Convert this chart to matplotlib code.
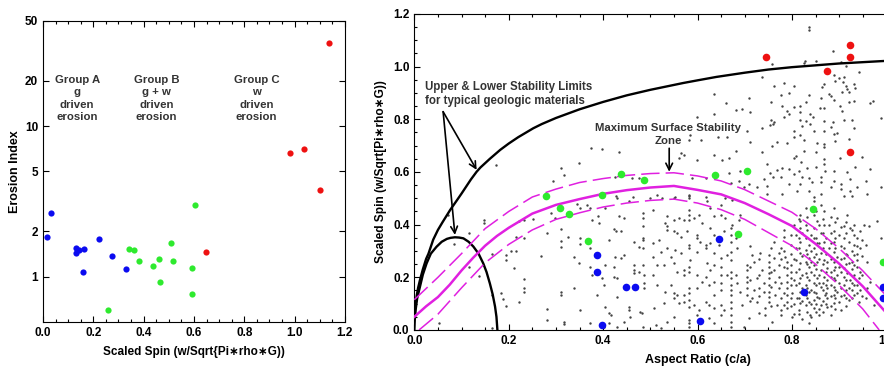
import matplotlib
matplotlib.use("Agg")
import matplotlib.pyplot as plt
from matplotlib.ticker import MultipleLocator, FixedLocator, FixedFormatter, NullLocator

plt.rcParams['font.family'] = ['Liberation Sans', 'DejaVu Sans']
plt.rcParams['font.weight'] = 'bold'
plt.rcParams['axes.labelweight'] = 'bold'

# ---------------- Left panel data ----------------
groupA_x = [0.017, 0.033, 0.130, 0.130, 0.145, 0.162, 0.158, 0.222, 0.275, 0.330]
groupA_y = [1.83, 2.66, 1.54, 1.43, 1.50, 1.53, 1.08, 1.79, 1.37, 1.12]
groupB_x = [0.258, 0.342, 0.362, 0.382, 0.439, 0.462, 0.466, 0.510, 0.516, 0.592, 0.592, 0.604]
groupB_y = [0.60, 1.53, 1.50, 1.27, 1.18, 1.32, 0.92, 1.68, 1.28, 1.15, 0.77, 2.99]
groupC_x = [0.648, 0.982, 1.037, 1.100, 1.138]
groupC_y = [1.47, 6.68, 7.07, 3.74, 35.9]
group_labels = ["Group A\ng\ndriven\nerosion", "Group B\ng + w\ndriven\nerosion", "Group C\nw\ndriven\nerosion"]
group_label_x = [0.136, 0.451, 0.848]
left_yticks = [1, 2, 5, 10, 20, 50]

# ---------------- Right panel data ----------------
red_x = [0.745, 0.924, 0.924, 0.875, 0.924]
red_y = [1.035, 1.084, 1.035, 0.984, 0.675]
green_x = [0.278, 0.308, 0.328, 0.367, 0.398, 0.437, 0.487, 0.636, 0.705, 0.685, 0.844, 0.992]
green_y = [0.510, 0.463, 0.442, 0.339, 0.514, 0.592, 0.568, 0.590, 0.603, 0.363, 0.458, 0.257]
blue_x = [0.387, 0.387, 0.448, 0.468, 0.398, 0.646, 0.606, 0.826, 0.992, 0.992]
blue_y = [0.284, 0.222, 0.165, 0.165, 0.019, 0.344, 0.034, 0.146, 0.165, 0.123]

upper_x = [0.0, 0.002, 0.005, 0.008, 0.012, 0.018, 0.025, 0.03, 0.04, 0.05, 0.06, 0.076, 0.09,
           0.1, 0.12, 0.132, 0.14, 0.16, 0.182, 0.2, 0.22, 0.252, 0.27, 0.3, 0.35, 0.4, 0.45,
           0.5, 0.57, 0.6, 0.64, 0.7, 0.75, 0.8, 0.85, 0.9, 1.0, 1.1, 1.2]
upper_y = [0.05, 0.09, 0.13, 0.16, 0.19, 0.23, 0.27, 0.29, 0.343, 0.38, 0.41, 0.456, 0.492,
           0.518, 0.572, 0.601, 0.617, 0.65, 0.684, 0.708, 0.732, 0.766, 0.782, 0.805, 0.838,
           0.866, 0.891, 0.912, 0.938, 0.948, 0.961, 0.977, 0.989, 0.998, 1.005, 1.012, 1.022,
           1.03, 1.035]
lower_x = [0.0, 0.001, 0.003, 0.006, 0.012, 0.018, 0.026, 0.035, 0.047, 0.058, 0.069, 0.077,
           0.086, 0.095, 0.104, 0.115, 0.125, 0.136, 0.146, 0.153, 0.160, 0.166, 0.171, 0.174,
           0.176]
lower_y = [0.0, 0.04, 0.08, 0.12, 0.165, 0.21, 0.253, 0.29, 0.316, 0.335, 0.346, 0.350,
           0.352, 0.351, 0.348, 0.335, 0.317, 0.29, 0.253, 0.22, 0.177, 0.135, 0.089, 0.05, 0.0]

zone_x = [0.0, 0.025, 0.05, 0.075, 0.1, 0.125, 0.15, 0.175, 0.2, 0.25, 0.3, 0.35, 0.4, 0.45,
          0.5, 0.55, 0.6, 0.65, 0.7, 0.75, 0.8, 0.85, 0.9, 0.95, 1.0, 1.03]
zone_mid = [0.05, 0.09, 0.125, 0.172, 0.226, 0.275, 0.32, 0.357, 0.388, 0.442, 0.475, 0.497,
            0.517, 0.531, 0.541, 0.547, 0.532, 0.515, 0.482, 0.44, 0.395, 0.327, 0.252, 0.166,
            0.065, 0.0]
zone_hi_x = [0.0, 0.05, 0.1, 0.15, 0.2, 0.25, 0.3, 0.35, 0.4, 0.45, 0.5, 0.55, 0.6, 0.65, 0.7,
             0.75, 0.8, 0.85, 0.9, 0.95, 1.0, 1.05]
zone_hi = [0.115, 0.2, 0.29, 0.385, 0.45, 0.505, 0.535, 0.56, 0.575, 0.587, 0.594, 0.597,
           0.585, 0.566, 0.533, 0.49, 0.447, 0.385, 0.31, 0.225, 0.13, 0.03]
zone_lo_x = [0.01, 0.05, 0.1, 0.15, 0.2, 0.25, 0.3, 0.35, 0.4, 0.45, 0.5, 0.55, 0.6, 0.65, 0.7,
             0.75, 0.8, 0.85, 0.9, 0.95, 0.985]
zone_lo = [0.0, 0.06, 0.16, 0.255, 0.325, 0.38, 0.42, 0.445, 0.467, 0.482, 0.492, 0.497,
           0.482, 0.457, 0.42, 0.37, 0.32, 0.25, 0.17, 0.08, 0.0]

dots_x = [
    0.173, 0.311, 0.318, 0.293,
    0.635, 0.661, 0.635, 0.599, 0.585, 0.582, 0.608, 0.644, 0.663, 0.375, 0.398, 0.433, 0.564,
    0.571, 0.560, 0.599, 0.635, 0.652, 0.666, 0.349, 0.426, 0.462, 0.476, 0.589, 0.617, 0.666,
    0.670, 0.428, 0.464, 0.515, 0.525, 0.582, 0.582, 0.617, 0.553,
    0.836, 0.836, 0.887, 0.827, 0.825, 0.851, 0.758, 0.903, 0.914, 0.942, 0.737, 0.889, 0.899,
    0.910, 0.908, 0.914, 0.892, 0.868, 0.864, 0.878, 0.882, 0.906, 0.917, 0.921, 0.931, 0.933,
    0.762, 0.784, 0.804, 0.709, 0.777, 0.793, 0.836, 0.861, 0.889, 0.921, 0.931, 0.755, 0.829,
    0.804, 0.817, 0.859, 0.868, 0.902, 0.906, 0.965, 0.972, 0.681, 0.695, 0.712, 0.779, 0.789,
    0.793, 0.818, 0.838, 0.845, 0.783, 0.755, 0.760, 0.753, 0.763, 0.818, 0.829, 0.838, 0.868,
    0.887, 0.910, 0.928, 0.882, 0.896, 0.889, 0.931, 0.868, 0.846, 0.822, 0.804, 0.818, 0.705,
    0.737, 0.769, 0.790, 0.804, 0.825, 0.854, 0.892, 0.921, 0.868, 0.868, 0.988, 0.681, 0.712,
    0.737, 0.758, 0.808, 0.804, 0.825, 0.868, 0.902, 0.949, 0.850, 0.820, 0.748, 0.691, 0.769,
    0.779, 0.793, 0.815, 0.832, 0.850, 0.868, 0.889, 0.917, 0.933, 0.966, 0.753, 0.760, 0.741,
    0.776, 0.804, 0.822, 0.836, 0.861, 0.871, 0.688, 0.709, 0.726, 0.748, 0.793, 0.818, 0.843,
    0.861, 0.889, 0.903, 0.924, 0.956, 0.698, 0.748, 0.779, 0.811, 0.836, 0.846, 0.861, 0.882,
    0.903, 0.924, 0.938, 0.959, 0.988, 0.928, 0.910,
    0.071, 0.147, 0.147, 0.116, 0.083, 0.222, 0.233, 0.251, 0.289, 0.297, 0.311, 0.281, 0.215,
    0.233, 0.325, 0.311, 0.311, 0.205, 0.215, 0.194, 0.194, 0.164, 0.268, 0.116, 0.136, 0.212,
    0.233, 0.233, 0.233, 0.184, 0.187, 0.164, 0.194, 0.222, 0.311, 0.311, 0.282, 0.282, 0.318,
    0.318, 0.053, 0.164,
    0.345, 0.352, 0.365, 0.373, 0.403, 0.430, 0.454, 0.500, 0.550, 0.582, 0.620, 0.627, 0.649,
    0.659, 0.673, 0.377, 0.389, 0.391, 0.433, 0.444, 0.485, 0.485, 0.484, 0.505, 0.536, 0.532,
    0.536, 0.550, 0.560, 0.571, 0.582, 0.582, 0.582, 0.592, 0.603, 0.610, 0.627, 0.635, 0.649,
    0.659, 0.673, 0.670, 0.423, 0.428, 0.437, 0.352, 0.412, 0.465, 0.485, 0.485, 0.505, 0.518,
    0.536, 0.550, 0.557, 0.564, 0.578, 0.598, 0.598, 0.606, 0.617, 0.627, 0.635, 0.645, 0.656,
    0.670, 0.670, 0.352, 0.338, 0.373, 0.426, 0.444, 0.476, 0.485, 0.505, 0.522, 0.536, 0.543,
    0.553, 0.564, 0.582, 0.582, 0.585, 0.599, 0.617, 0.620, 0.635, 0.649, 0.663, 0.670, 0.670,
    0.373, 0.377, 0.405, 0.423, 0.437, 0.465, 0.465, 0.465, 0.485, 0.476, 0.486, 0.505, 0.515,
    0.529, 0.550, 0.557, 0.571, 0.571, 0.582, 0.582, 0.599, 0.617, 0.627, 0.635, 0.649, 0.649,
    0.663, 0.670, 0.670, 0.349, 0.338, 0.387, 0.398, 0.402, 0.423, 0.430, 0.486, 0.486, 0.515,
    0.532, 0.543, 0.550, 0.557, 0.571, 0.582, 0.582, 0.599, 0.610, 0.624, 0.635, 0.649, 0.649,
    0.670, 0.670, 0.670, 0.635, 0.405, 0.412, 0.430, 0.454, 0.454, 0.479, 0.483, 0.507, 0.529,
    0.550, 0.560, 0.571, 0.582, 0.582, 0.592, 0.603, 0.617, 0.624, 0.635, 0.649, 0.656, 0.670,
    0.670, 0.352, 0.416, 0.373, 0.412, 0.430, 0.444, 0.458, 0.485, 0.511, 0.522, 0.536, 0.550,
    0.582, 0.582, 0.582, 0.599, 0.624, 0.635, 0.649, 0.670, 0.670, 0.670, 0.402,
    0.681, 0.684, 0.691, 0.688, 0.705, 0.705, 0.705, 0.705, 0.705, 0.705, 0.681, 0.684, 0.691,
    0.695, 0.716, 0.719, 0.716, 0.719, 0.726, 0.726, 0.733, 0.737, 0.741, 0.741, 0.730, 0.709,
    0.744, 0.744, 0.698,
    0.751, 0.751, 0.751, 0.751, 0.751, 0.751, 0.751, 0.751, 0.751, 0.762, 0.762, 0.762, 0.765,
    0.765, 0.772, 0.772, 0.772, 0.772, 0.769, 0.776, 0.758,
    0.783, 0.786, 0.790, 0.790, 0.790, 0.790, 0.790, 0.790, 0.790, 0.790, 0.797, 0.797, 0.797,
    0.801, 0.801, 0.783,
    0.808, 0.808, 0.808, 0.808, 0.808, 0.811, 0.815, 0.818, 0.818, 0.818, 0.818, 0.818, 0.818,
    0.818, 0.818, 0.818,
    0.829, 0.829, 0.829, 0.829, 0.829, 0.829, 0.829, 0.829, 0.829, 0.836, 0.836, 0.836, 0.836,
    0.836, 0.836, 0.839, 0.836,
    0.846, 0.846, 0.846, 0.846, 0.846, 0.846, 0.846, 0.846, 0.846, 0.846, 0.846, 0.846, 0.854,
    0.854, 0.854, 0.854, 0.854, 0.861, 0.861, 0.861, 0.861, 0.861, 0.861, 0.857,
    0.868, 0.868, 0.868, 0.868, 0.868, 0.871, 0.875, 0.875, 0.875, 0.875, 0.875, 0.875, 0.878,
    0.878, 0.882, 0.882,
    0.889, 0.889, 0.889, 0.889, 0.889, 0.889, 0.889, 0.889, 0.889, 0.889, 0.896, 0.896, 0.896,
    0.896, 0.899, 0.899, 0.899, 0.899, 0.903,
    0.910, 0.910, 0.910, 0.910, 0.910, 0.910, 0.910, 0.910, 0.917, 0.917, 0.917, 0.921, 0.921,
    0.921, 0.921, 0.924, 0.924,
    0.931, 0.931, 0.931, 0.931, 0.931, 0.931, 0.931, 0.931, 0.938, 0.938, 0.942, 0.942, 0.945,
    0.945, 0.945, 0.945,
    0.952, 0.956, 0.959, 0.963, 0.956, 0.966, 0.974, 0.959, 0.981, 0.988,
]
dots_y = [
    0.627, 0.617, 0.587, 0.566,
    0.895, 0.863, 0.822, 0.807, 0.740, 0.721, 0.721, 0.731, 0.734, 0.691, 0.686, 0.677, 0.673,
    0.664, 0.655, 0.645, 0.664, 0.645, 0.652, 0.635, 0.582, 0.576, 0.579, 0.576, 0.576, 0.595,
    0.557, 0.509, 0.506, 0.512, 0.503, 0.512, 0.503, 0.506, 0.506,
    1.152, 1.139, 1.061, 1.023, 1.013, 1.023, 1.010, 1.016, 1.004, 0.978, 0.962, 0.970, 0.957,
    0.959, 0.940, 0.928, 0.947, 0.934, 0.921, 0.896, 0.890, 0.902, 0.915, 0.902, 0.934, 0.919,
    0.928, 0.937, 0.928, 0.880, 0.892, 0.899, 0.892, 0.881, 0.873, 0.865, 0.871, 0.867, 0.865,
    0.846, 0.852, 0.843, 0.843, 0.852, 0.833, 0.861, 0.868, 0.835, 0.839, 0.829, 0.852, 0.830,
    0.820, 0.827, 0.820, 0.808, 0.808, 0.797, 0.782, 0.780, 0.789, 0.797, 0.792, 0.782, 0.795,
    0.789, 0.797, 0.797, 0.770, 0.749, 0.744, 0.767, 0.757, 0.757, 0.776, 0.754, 0.742, 0.757,
    0.766, 0.715, 0.709, 0.732, 0.721, 0.709, 0.719, 0.725, 0.706, 0.696, 0.804, 0.681, 0.714,
    0.675, 0.700, 0.662, 0.653, 0.681, 0.649, 0.653, 0.656, 0.675, 0.637, 0.630, 0.605, 0.608,
    0.615, 0.611, 0.605, 0.615, 0.620, 0.630, 0.605, 0.599, 0.618, 0.611, 0.595, 0.580, 0.573,
    0.582, 0.592, 0.582, 0.577, 0.582, 0.605, 0.567, 0.554, 0.542, 0.548, 0.554, 0.554, 0.561,
    0.561, 0.567, 0.554, 0.573, 0.567, 0.542, 0.516, 0.516, 0.529, 0.529, 0.504, 0.516, 0.542,
    0.535, 0.529, 0.542, 0.516, 0.542, 0.510, 0.510,
    0.435, 0.418, 0.405, 0.367, 0.326, 0.414, 0.418, 0.421, 0.443, 0.424, 0.383, 0.370, 0.355,
    0.348, 0.355, 0.338, 0.317, 0.300, 0.300, 0.285, 0.266, 0.288, 0.281, 0.241, 0.205, 0.234,
    0.194, 0.161, 0.146, 0.140, 0.117, 0.133, 0.091, 0.105, 0.146, 0.133, 0.079, 0.037, 0.032,
    0.022, 0.026, 0.007,
    0.478, 0.462, 0.475, 0.465, 0.462, 0.503, 0.490, 0.503, 0.500, 0.507, 0.488, 0.462, 0.475,
    0.500, 0.494, 0.418, 0.431, 0.405, 0.431, 0.427, 0.443, 0.424, 0.393, 0.456, 0.431, 0.405,
    0.393, 0.418, 0.424, 0.418, 0.456, 0.437, 0.418, 0.424, 0.437, 0.405, 0.386, 0.431, 0.437,
    0.424, 0.399, 0.386, 0.383, 0.376, 0.374, 0.348, 0.342, 0.336, 0.351, 0.342, 0.329, 0.342,
    0.380, 0.376, 0.367, 0.355, 0.374, 0.361, 0.348, 0.336, 0.323, 0.329, 0.361, 0.323, 0.374,
    0.361, 0.336, 0.326, 0.279, 0.310, 0.279, 0.283, 0.317, 0.310, 0.279, 0.298, 0.310, 0.279,
    0.304, 0.291, 0.323, 0.310, 0.266, 0.298, 0.310, 0.253, 0.291, 0.272, 0.285, 0.298, 0.266,
    0.241, 0.209, 0.247, 0.241, 0.272, 0.247, 0.228, 0.215, 0.247, 0.222, 0.209, 0.209, 0.247,
    0.247, 0.253, 0.222, 0.228, 0.209, 0.241, 0.222, 0.209, 0.203, 0.228, 0.247, 0.241, 0.209,
    0.209, 0.222, 0.197, 0.253, 0.159, 0.133, 0.197, 0.171, 0.203, 0.197, 0.178, 0.159, 0.171,
    0.146, 0.171, 0.140, 0.133, 0.133, 0.159, 0.140, 0.159, 0.184, 0.171, 0.184, 0.178, 0.152,
    0.171, 0.152, 0.133, 0.133, 0.089, 0.064, 0.127, 0.089, 0.076, 0.070, 0.064, 0.083, 0.102,
    0.121, 0.102, 0.108, 0.089, 0.114, 0.095, 0.076, 0.108, 0.095, 0.083, 0.095, 0.076, 0.108,
    0.083, 0.076, 0.057, 0.026, 0.026, 0.013, 0.032, 0.051, 0.013, 0.019, 0.007, 0.032, 0.051,
    0.038, 0.026, 0.013, 0.057, 0.045, 0.026, 0.057, 0.057, 0.032, 0.013, 0.013,
    0.348, 0.310, 0.437, 0.418, 0.247, 0.228, 0.203, 0.184, 0.159, 0.133, 0.209, 0.178, 0.146,
    0.095, 0.285, 0.260, 0.121, 0.152, 0.197, 0.108, 0.291, 0.228, 0.178, 0.146, 0.064, 0.045,
    0.083, 0.057, 0.013,
    0.285, 0.260, 0.241, 0.215, 0.197, 0.171, 0.146, 0.127, 0.108, 0.336, 0.272, 0.228, 0.184,
    0.133, 0.291, 0.247, 0.203, 0.159, 0.095, 0.057, 0.032,
    0.355, 0.279, 0.260, 0.234, 0.209, 0.184, 0.159, 0.133, 0.108, 0.083, 0.323, 0.247, 0.197,
    0.140, 0.051, 0.095,
    0.361, 0.310, 0.266, 0.222, 0.171, 0.121, 0.076, 0.437, 0.412, 0.386, 0.336, 0.291, 0.253,
    0.197, 0.146, 0.102,
    0.462, 0.399, 0.348, 0.304, 0.260, 0.215, 0.171, 0.133, 0.095, 0.323, 0.272, 0.241, 0.190,
    0.146, 0.108, 0.057, 0.026,
    0.488, 0.437, 0.386, 0.348, 0.310, 0.279, 0.247, 0.209, 0.178, 0.146, 0.114, 0.083, 0.412,
    0.329, 0.260, 0.197, 0.127, 0.475, 0.367, 0.291, 0.228, 0.165, 0.095, 0.057,
    0.450, 0.399, 0.336, 0.266, 0.203, 0.133, 0.260, 0.234, 0.190, 0.159, 0.121, 0.089, 0.399,
    0.310, 0.057, 0.222,
    0.462, 0.374, 0.336, 0.298, 0.260, 0.228, 0.197, 0.165, 0.133, 0.102, 0.424, 0.279, 0.209,
    0.146, 0.361, 0.241, 0.178, 0.108, 0.076,
    0.393, 0.348, 0.310, 0.272, 0.234, 0.203, 0.171, 0.133, 0.437, 0.285, 0.215, 0.336, 0.253,
    0.159, 0.114, 0.386, 0.190,
    0.399, 0.361, 0.323, 0.285, 0.247, 0.209, 0.171, 0.133, 0.348, 0.266, 0.197, 0.108, 0.374,
    0.310, 0.222, 0.152,
    0.399, 0.323, 0.260, 0.393, 0.121, 0.184, 0.095, 0.159, 0.412, 0.348,
]

# extra dots in the dense cloud (c/a 0.7-0.95)
dense_x = [
    0.755, 0.755, 0.755, 0.755, 0.776, 0.776, 0.776, 0.776, 0.776, 0.783, 0.783, 0.783, 0.783,
    0.797, 0.797, 0.797, 0.797, 0.797, 0.797, 0.804, 0.804, 0.804, 0.804, 0.804,
    0.815, 0.815, 0.815, 0.815, 0.815, 0.815, 0.815, 0.822, 0.822, 0.822, 0.822, 0.822, 0.822,
    0.832, 0.832, 0.832, 0.832, 0.832, 0.832, 0.832, 0.832, 0.840, 0.840, 0.840, 0.840, 0.840,
    0.840, 0.840, 0.850, 0.850, 0.850, 0.850, 0.850, 0.850, 0.850, 0.850, 0.857, 0.857, 0.857,
    0.857, 0.857, 0.857, 0.857, 0.865, 0.865, 0.865, 0.865, 0.865, 0.865, 0.865, 0.865,
    0.872, 0.872, 0.872, 0.872, 0.872, 0.872, 0.882, 0.882, 0.882, 0.882, 0.882, 0.882, 0.882,
    0.882, 0.892, 0.892, 0.892, 0.892, 0.892, 0.892, 0.892, 0.892, 0.903, 0.903, 0.903, 0.903,
    0.903, 0.903, 0.914, 0.914, 0.914, 0.914, 0.914, 0.914, 0.914, 0.914, 0.927, 0.927, 0.927,
    0.927, 0.927, 0.927, 0.927, 0.938, 0.938, 0.938, 0.938, 0.938, 0.949, 0.949, 0.949, 0.949,
    0.730, 0.730, 0.730, 0.730, 0.712, 0.712, 0.712, 0.712,
]
dense_y = [
    0.31, 0.22, 0.165, 0.09, 0.31, 0.27, 0.18, 0.12, 0.075, 0.38, 0.30, 0.24, 0.14,
    0.36, 0.29, 0.22, 0.17, 0.12, 0.09, 0.40, 0.27, 0.19, 0.10, 0.06,
    0.42, 0.35, 0.31, 0.23, 0.18, 0.12, 0.06, 0.37, 0.28, 0.21, 0.16, 0.11, 0.04,
    0.43, 0.38, 0.29, 0.25, 0.20, 0.16, 0.12, 0.07, 0.36, 0.30, 0.26, 0.22, 0.15,
    0.10, 0.05, 0.45, 0.35, 0.29, 0.23, 0.17, 0.14, 0.10, 0.07, 0.40, 0.33, 0.27,
    0.21, 0.18, 0.12, 0.08, 0.42, 0.37, 0.31, 0.25, 0.18, 0.15, 0.11, 0.07,
    0.35, 0.29, 0.22, 0.17, 0.14, 0.10, 0.43, 0.37, 0.33, 0.27, 0.20, 0.17, 0.13,
    0.09, 0.41, 0.35, 0.31, 0.24, 0.19, 0.15, 0.12, 0.08, 0.39, 0.32, 0.27, 0.22,
    0.16, 0.13, 0.41, 0.37, 0.29, 0.25, 0.19, 0.15, 0.12, 0.09, 0.38, 0.30, 0.26,
    0.23, 0.18, 0.15, 0.12, 0.32, 0.29, 0.24, 0.17, 0.14, 0.34, 0.28, 0.21, 0.13,
    0.27, 0.21, 0.16, 0.13, 0.32, 0.24, 0.19, 0.11,
]

# ---------------- Figure ----------------
fig = plt.figure(figsize=(8.84, 3.68), dpi=100)
txt_color = '#333333'
TICK_FS = 8.5

# Left panel
axL = fig.add_axes([0.0486, 0.125, 0.3416, 0.818])
axL.set_yscale('log')
axL.scatter(groupA_x, groupA_y, s=20, color='#0b0bf0', linewidths=0, zorder=3)
axL.scatter(groupB_x, groupB_y, s=20, color='#2eea2e', linewidths=0, zorder=3)
axL.scatter(groupC_x, groupC_y, s=20, color='#ee1111', linewidths=0, zorder=3)
axL.set_xlim(0, 1.2)
axL.set_ylim(0.5, 50)
axL.xaxis.set_major_locator(MultipleLocator(0.2))
axL.xaxis.set_minor_locator(MultipleLocator(0.05))
axL.yaxis.set_major_locator(FixedLocator(left_yticks))
axL.yaxis.set_major_formatter(FixedFormatter([str(v) for v in left_yticks]))
axL.yaxis.set_minor_locator(NullLocator())
axL.set_xticklabels([f"{v:.1f}" for v in axL.get_xticks()])
axL.tick_params(which='both', direction='in', top=True, right=True, labelsize=TICK_FS, width=0.8)
axL.tick_params(which='major', length=4)
axL.tick_params(which='minor', length=2)
axL.set_xlabel("Scaled Spin (w/Sqrt{Pi\u2217rho\u2217G))", fontsize=8.5, labelpad=5)
axL.set_ylabel("Erosion Index", fontsize=9, labelpad=3)
for lab, gx in zip(group_labels, group_label_x):
    axL.text(gx, 22, lab, ha='center', va='top', fontsize=8.2, color=txt_color,
             fontweight='bold', linespacing=1.32)
for sp in axL.spines.values():
    sp.set_linewidth(0.8)

# Right panel
axR = fig.add_axes([0.4687, 0.1033, 0.6407, 0.8587])
axR.scatter(dots_x, dots_y, s=3, color='#444444', linewidths=0, zorder=2)
axR.scatter(dense_x, dense_y, s=3, color='#444444', linewidths=0, zorder=2)
axR.plot(upper_x, upper_y, color='black', lw=1.7, zorder=3)
axR.plot(lower_x, lower_y, color='black', lw=1.7, zorder=3)
axR.plot(zone_x, zone_mid, color='#e020e0', lw=1.8, zorder=3)
axR.plot(zone_hi_x, zone_hi, color='#e020e0', lw=1.1, ls=(0, (12, 4)), zorder=3)
axR.plot(zone_lo_x, zone_lo, color='#e020e0', lw=1.1, ls=(0, (12, 4)), zorder=3)
axR.scatter(red_x, red_y, s=30, color='#ee1111', linewidths=0, zorder=4)
axR.scatter(green_x, green_y, s=30, color='#2eea2e', linewidths=0, zorder=4)
axR.scatter(blue_x, blue_y, s=30, color='#0b0bf0', linewidths=0, zorder=4)
axR.set_xlim(0, 1.2)
axR.set_ylim(0, 1.2)
axR.xaxis.set_major_locator(MultipleLocator(0.2))
axR.xaxis.set_minor_locator(MultipleLocator(0.05))
axR.yaxis.set_major_locator(MultipleLocator(0.2))
axR.yaxis.set_minor_locator(MultipleLocator(0.05))
axR.set_xticklabels([f"{v:.1f}" for v in axR.get_xticks()])
axR.set_yticklabels([f"{v:.1f}" for v in axR.get_yticks()])
axR.tick_params(which='both', direction='in', top=True, right=True, labelsize=TICK_FS, width=0.8)
axR.tick_params(which='major', length=4)
axR.tick_params(which='minor', length=2)
axR.set_xlabel("Aspect Ratio (c/a)", fontsize=9, labelpad=5)
axR.set_ylabel("Scaled Spin (w/Sqrt[Pi\u2217rho\u2217G))", fontsize=8.6, labelpad=4)
for sp in axR.spines.values():
    sp.set_linewidth(0.8)

axR.text(0.0235, 0.945, "Upper & Lower Stability Limits\nfor typical geologic materials",
         ha='left', va='top', fontsize=8.3, color=txt_color, fontweight='bold', linespacing=1.2)
arrow_kw = dict(arrowstyle='->', lw=1.2, color='black', mutation_scale=12, shrinkA=0, shrinkB=0)
axR.annotate("", xy=(0.132, 0.608), xytext=(0.061, 0.829), arrowprops=arrow_kw)
axR.annotate("", xy=(0.086, 0.361), xytext=(0.061, 0.829), arrowprops=arrow_kw)
axR.text(0.538, 0.787, "Maximum Surface Stability\nZone", ha='center', va='top', fontsize=8.2,
         color=txt_color, fontweight='bold', linespacing=1.35)
axR.annotate("", xy=(0.540, 0.601), xytext=(0.540, 0.690), arrowprops=arrow_kw)

fig.savefig("out.png", dpi=100)
